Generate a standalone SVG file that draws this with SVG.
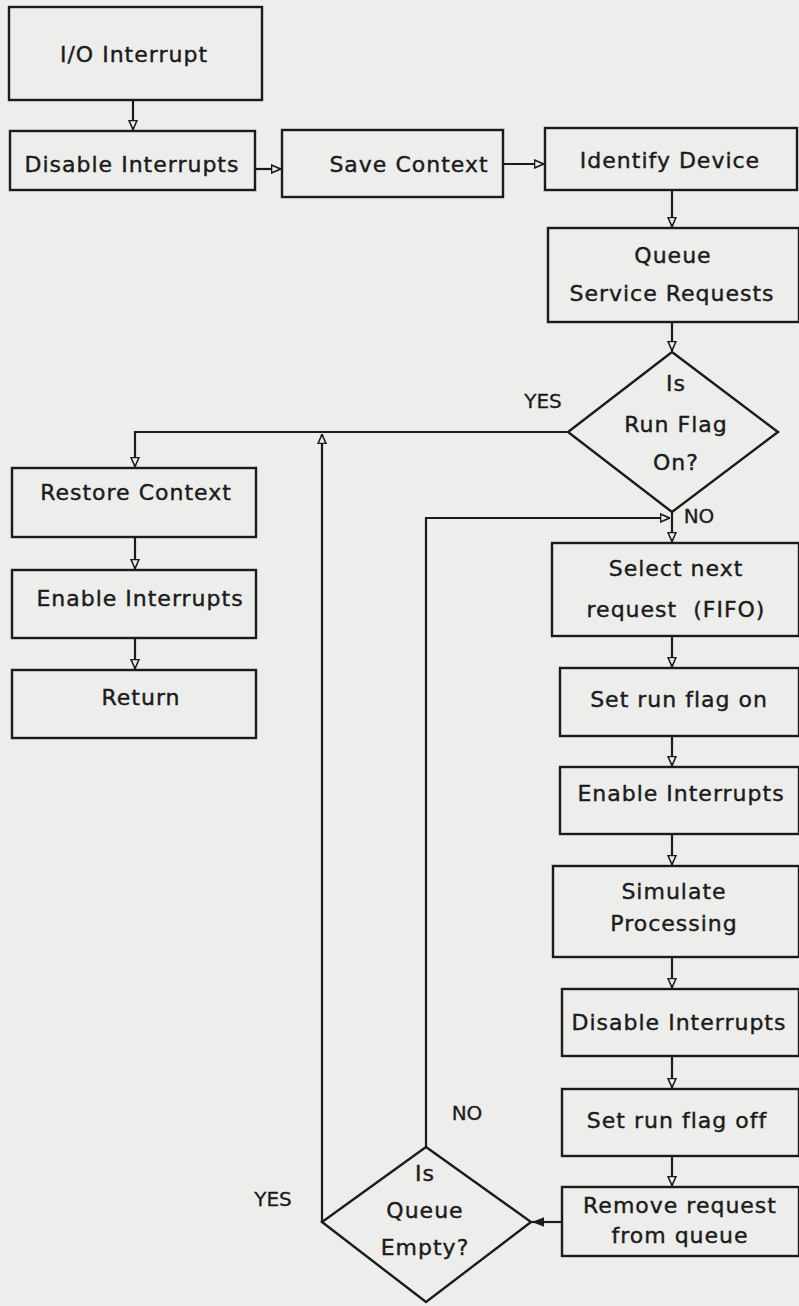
<svg xmlns="http://www.w3.org/2000/svg" width="799" height="1306" viewBox="0 0 799 1306">
<style>
.box{fill:none;stroke:#1b1b1b;stroke-width:2.4}
.ln{fill:none;stroke:#1b1b1b;stroke-width:2.2}
.t{font-family:"DejaVu Sans",sans-serif;font-size:22px;letter-spacing:1px;fill:#1b1b1b;stroke:#1b1b1b;stroke-width:0.4;text-anchor:middle}
.lbl{font-family:"DejaVu Sans",sans-serif;font-size:20px;fill:#1b1b1b;stroke:#1b1b1b;stroke-width:0.3;text-anchor:middle}
</style>
<defs>
<marker id="open" viewBox="0 0 10 10" refX="10" refY="5" markerWidth="10" markerHeight="10" markerUnits="userSpaceOnUse" orient="auto">
<path d="M0.5,1 L9.5,5 L0.5,9 Z" fill="#ededeb" stroke="#1b1b1b" stroke-width="1.6"/>
</marker>
<marker id="solid" viewBox="0 0 10 10" refX="10" refY="5" markerWidth="12" markerHeight="12" markerUnits="userSpaceOnUse" orient="auto">
<path d="M0,1 L10,5 L0,9 Z" fill="#1b1b1b"/>
</marker>
</defs>
<rect width="799" height="1306" fill="#ededeb"/>
<g id="connectors">
<path class="ln" d="M133,100 V130" marker-end="url(#open)"/>
<path class="ln" d="M255,169 H281" marker-end="url(#open)"/>
<path class="ln" d="M503,164 H544" marker-end="url(#open)"/>
<path class="ln" d="M672,190 V227" marker-end="url(#open)"/>
<path class="ln" d="M672,322 V351" marker-end="url(#open)"/>
<path class="ln" d="M568,432 H135 V467" marker-end="url(#open)"/>
<path class="ln" d="M322,1222 V434" marker-end="url(#open)"/>
<path class="ln" d="M426,1147 V518 H670" marker-end="url(#open)"/>
<path class="ln" d="M672,512 V542" marker-end="url(#open)"/>
<path class="ln" d="M135,537 V569" marker-end="url(#open)"/>
<path class="ln" d="M135,638 V669" marker-end="url(#open)"/>
<path class="ln" d="M672,636 V667" marker-end="url(#open)"/>
<path class="ln" d="M672,736 V766" marker-end="url(#open)"/>
<path class="ln" d="M672,834 V865" marker-end="url(#open)"/>
<path class="ln" d="M672,957 V988" marker-end="url(#open)"/>
<path class="ln" d="M672,1056 V1088" marker-end="url(#open)"/>
<path class="ln" d="M672,1156 V1186" marker-end="url(#open)"/>
<path class="ln" d="M562,1222 H532" marker-end="url(#solid)"/>
</g>
<g id="labels">
<text class="lbl" x="543" y="408">YES</text>
<text class="lbl" x="699" y="523">NO</text>
<text class="lbl" x="467" y="1120">NO</text>
<text class="lbl" x="273" y="1206">YES</text>
</g>
<g id="io-interrupt"><rect class="box" x="9" y="7" width="253" height="93"/><text class="t" x="134" y="62">I/O Interrupt</text></g>
<g id="disable-interrupts-1"><rect class="box" x="10" y="131" width="245" height="59"/><text class="t" x="132" y="172">Disable Interrupts</text></g>
<g id="save-context"><rect class="box" x="282" y="130" width="221" height="67"/><text class="t" x="409" y="172">Save Context</text></g>
<g id="identify-device"><rect class="box" x="545" y="128" width="252" height="62"/><text class="t" x="670" y="168">Identify Device</text></g>
<g id="queue-service"><rect class="box" x="548" y="228" width="251" height="94"/><text class="t" x="673" y="263">Queue</text><text class="t" x="672" y="301">Service Requests</text></g>
<g id="run-flag"><polygon class="box" points="672,352 778,432 672,512 568,432"/><text class="t" x="676" y="391">Is</text><text class="t" x="676" y="432">Run Flag</text><text class="t" x="676" y="470">On?</text></g>
<g id="restore-context"><rect class="box" x="12" y="468" width="244" height="69"/><text class="t" x="136" y="500">Restore Context</text></g>
<g id="enable-interrupts-1"><rect class="box" x="12" y="570" width="244" height="68"/><text class="t" x="140" y="606">Enable Interrupts</text></g>
<g id="return"><rect class="box" x="12" y="670" width="244" height="68"/><text class="t" x="141" y="705">Return</text></g>
<g id="select-next"><rect class="box" x="552" y="543" width="247" height="93"/><text class="t" x="676" y="576">Select next</text><text class="t" x="676" y="617">request&#160;&#160;(FIFO)</text></g>
<g id="set-run-flag-on"><rect class="box" x="560" y="668" width="239" height="68"/><text class="t" x="679" y="707">Set run flag on</text></g>
<g id="enable-interrupts-2"><rect class="box" x="560" y="767" width="239" height="67"/><text class="t" x="681" y="801">Enable Interrupts</text></g>
<g id="simulate-processing"><rect class="box" x="553" y="866" width="246" height="91"/><text class="t" x="674" y="899">Simulate</text><text class="t" x="674" y="931">Processing</text></g>
<g id="disable-interrupts-2"><rect class="box" x="562" y="989" width="237" height="67"/><text class="t" x="679" y="1030">Disable Interrupts</text></g>
<g id="set-run-flag-off"><rect class="box" x="562" y="1089" width="237" height="67"/><text class="t" x="677" y="1128">Set run flag off</text></g>
<g id="remove-request"><rect class="box" x="562" y="1187" width="237" height="69"/><text class="t" x="680" y="1213">Remove request</text><text class="t" x="680" y="1243">from queue</text></g>
<g id="queue-empty"><polygon class="box" points="426,1147 531,1222 426,1302 322,1222"/><text class="t" x="425" y="1181">Is</text><text class="t" x="425" y="1218">Queue</text><text class="t" x="425" y="1255">Empty?</text></g>
</svg>
